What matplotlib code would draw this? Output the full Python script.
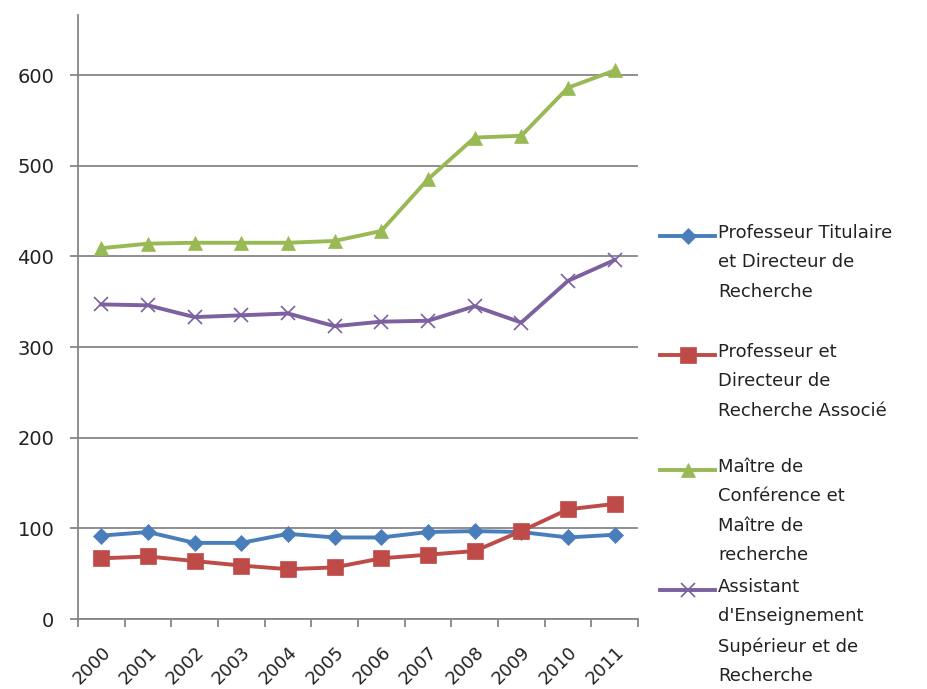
import numpy as np
import matplotlib
matplotlib.use('Agg')
import matplotlib.pyplot as plt
from matplotlib.lines import Line2D

plt.rcParams['font.family'] = ['DejaVu Sans']

years = ['2000', '2001', '2002', '2003', '2004', '2005',
         '2006', '2007', '2008', '2009', '2010', '2011']
titulaire = [92, 96, 84, 84, 94, 90, 90, 96, 97, 96, 90, 93]
associe = [67, 69, 64, 59, 55, 57, 67, 71, 75, 97, 121, 127]
maitre = [409, 414, 415, 415, 415, 417, 428, 485, 531, 533, 586, 605]
assistant = [347, 346, 333, 335, 337, 323, 328, 329, 345, 327, 373, 396]

labels = ['Professeur Titulaire\net Directeur de\nRecherche',
          'Professeur et\nDirecteur de\nRecherche Associé',
          'Maître de\nConférence et\nMaître de\nrecherche',
          "Assistant\nd'Enseignement\nSupérieur et de\nRecherche"]
colors = ['#4A7EBB', '#BE4B48', '#98B954', '#7D60A0']
markers = ['D', 's', '^', 'x']
msizes = [8, 11, 10, 10]

fig = plt.figure(figsize=(9.28, 6.89), dpi=100)
ax = fig.add_axes([0.084, 0.1015, 0.6035, 0.8765])

x = np.arange(len(years))
series = [titulaire, associe, maitre, assistant]
for s, c, m, ms in zip(series, colors, markers, msizes):
    ax.plot(x, s, color=c, lw=2.8, marker=m, markersize=ms,
            markeredgewidth=1.2 if m == 'x' else 0.5, markeredgecolor=c,
            markerfacecolor=c, zorder=3)

ax.set_xlim(-0.5, len(years) - 0.5)
ax.set_ylim(0, 666)
ax.set_yticks(range(0, 700, 100))
ax.yaxis.grid(True, color='#868686', lw=1.3)
ax.set_axisbelow(True)
ax.set_xticks(x)
ax.set_xticklabels(years, rotation=45, ha='right', rotation_mode='anchor')
ax.tick_params(axis='x', length=0, labelsize=13, pad=17, labelcolor='#222222')
ax.set_xticks(np.arange(-0.5, len(years)), minor=True)
ax.tick_params(axis='x', which='minor', length=6, color='#868686', width=1.3)
ax.tick_params(axis='y', length=6, color='#868686', width=1.3, labelsize=14,
               labelcolor='#222222', pad=11)
for sp in ['top', 'right']:
    ax.spines[sp].set_visible(False)
for sp in ['left', 'bottom']:
    ax.spines[sp].set_color('#868686')
    ax.spines[sp].set_linewidth(1.3)

# legend drawn by hand, one four-line slot per series
W, H = 928.0, 689.0
first_line = [236, 355, 470, 590]
for lab, c, m, ms, yy in zip(labels, colors, markers, msizes, first_line):
    yf = 1 - yy / H
    fig.add_artist(Line2D([660 / W, 688 / W, 715 / W], [yf, yf, yf],
                          transform=fig.transFigure, color=c, lw=2.8,
                          marker=m, markersize=ms, markevery=[1],
                          markeredgecolor=c, markerfacecolor=c,
                          markeredgewidth=1.2 if m == 'x' else 0.5))
    fig.text(718 / W, yf + 12 / H, lab, fontsize=13, va='top', ha='left',
             linespacing=1.82, color='#222222')

fig.savefig('out.png', dpi=100)
